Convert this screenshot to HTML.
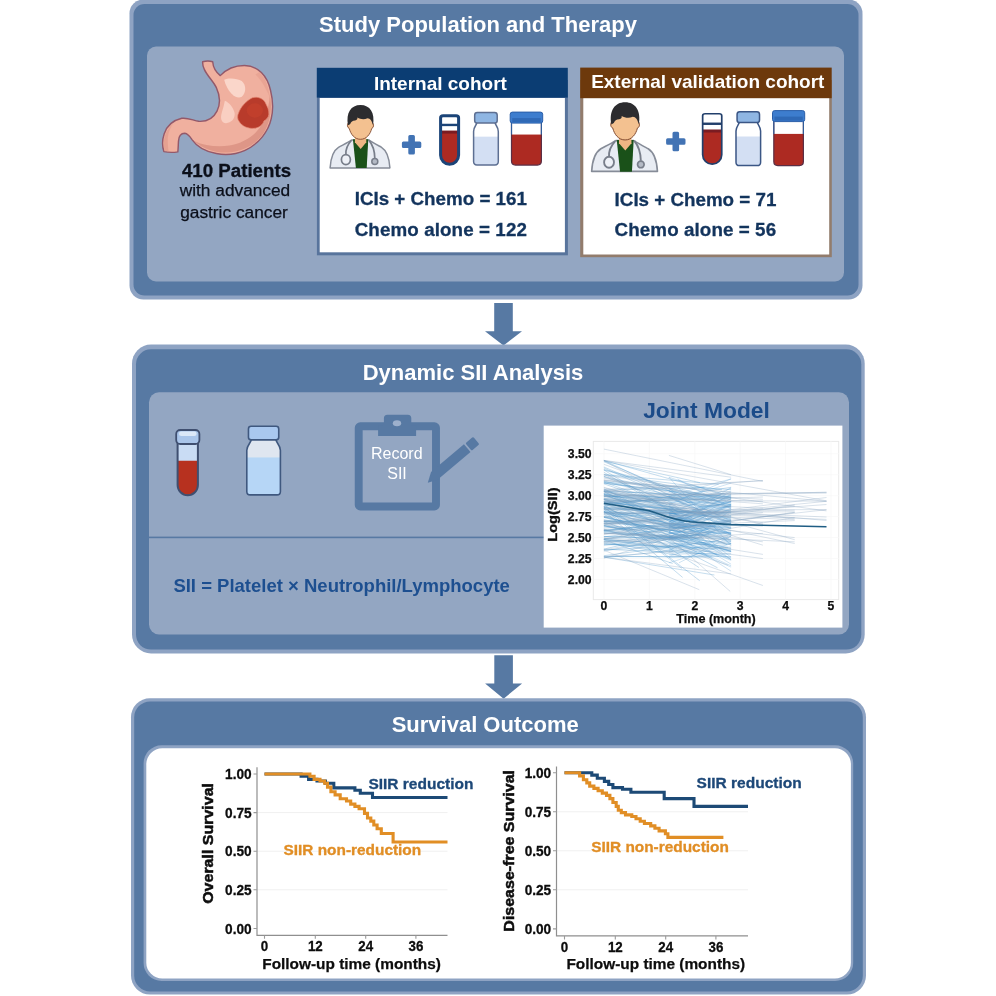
<!DOCTYPE html>
<html lang="en">
<head>
<meta charset="utf-8">
<title>Graphical abstract: Dynamic SII analysis in advanced gastric cancer</title>
<style>
html,body{margin:0;padding:0;background:#ffffff;}
body{width:996px;height:996px;overflow:hidden;}
svg{display:block;}
text{font-family:"Liberation Sans",sans-serif;}
.b{font-weight:bold;}
.title{font-weight:bold;font-size:22px;fill:#ffffff;text-anchor:middle;}
.hd{font-weight:bold;font-size:19px;fill:#ffffff;text-anchor:middle;}
.navy{font-weight:bold;font-size:18.8px;fill:#13345d;stroke:#13345d;stroke-width:0.3px;}
.tick{font-weight:bold;font-size:14.5px;fill:#0d0d0d;stroke:#0d0d0d;stroke-width:0.3px;}
.rot{font-weight:bold;fill:#0d0d0d;stroke:#0d0d0d;stroke-width:0.55px;}
.ax{font-weight:bold;fill:#0d0d0d;stroke:#0d0d0d;stroke-width:0.25px;}
.jt{font-weight:bold;font-size:12.2px;fill:#0d0d0d;stroke:#0d0d0d;stroke-width:0.25px;}
</style>
</head>
<body>
<svg width="996" height="996" viewBox="0 0 996 996">
<rect x="0" y="0" width="996" height="996" fill="#ffffff"/>
<!-- Box 1 -->
<rect x="129.5" y="-0.5" width="733" height="300" rx="14" fill="#8ea3c3"/>
<rect x="133.5" y="4" width="725" height="291.5" rx="11" fill="#5779a3"/>
<rect x="147" y="46.5" width="697" height="235" rx="9" fill="#93a6c2"/>
<text x="478" y="31.8" class="title">Study Population and Therapy</text>
<g id="stomach" transform="translate(155,55) scale(0.13052)">
<path d="M365,52 C390,45 420,45 442,52 C445,95 465,130 500,158 C545,110 610,80 685,80 C790,82 860,160 885,270 C905,350 905,430 890,490 C870,580 800,680 690,730 C620,762 540,768 470,755 C390,740 320,700 285,650 C265,620 250,602 228,600 C200,600 182,625 180,660 C178,690 178,715 175,742 C140,748 105,748 68,740 C55,700 55,650 70,605 C90,545 140,500 205,485 C250,478 290,500 335,508 C400,512 450,480 475,430 C500,380 498,310 470,250 C450,205 400,160 378,110 C368,90 364,70 365,52 Z" fill="#f0b09f" stroke="#93596a" stroke-width="11" stroke-linejoin="round"/>
<path d="M880,300 C900,400 885,520 826,608 C768,688 680,730 580,745 C480,755 380,728 300,658 C380,696 480,708 570,694 C680,674 778,616 826,518 C858,450 876,380 880,300 Z" fill="#dc9384" opacity="0.9"/>
<path d="M76,735 C64,700 64,650 80,606 C92,575 112,548 140,526 C112,560 96,610 98,660 C99,690 100,715 104,738 Z" fill="#e39d8d" opacity="0.8"/>
<path d="M800,130 C850,180 872,250 878,320 C850,260 820,200 770,150 Z" fill="#e5a090" opacity="0.7"/>
<path d="M530,190 C560,175 630,178 665,200 C700,230 700,290 665,320 C640,335 610,320 585,295 C560,270 540,230 530,190 Z" fill="#fad6ca"/>
<path d="M535,350 C570,365 600,400 610,445 C615,490 580,525 540,522 C505,515 500,480 512,440 C522,410 530,380 535,350 Z" fill="#f9cfc2"/>
<path d="M640,445 C655,400 700,350 745,328 C790,315 835,335 850,375 C860,395 875,420 872,455 C870,480 850,495 835,505 C825,535 795,560 755,562 C710,565 665,545 645,510 C630,490 630,465 640,445 Z" fill="#b83b2b" stroke="#e48a76" stroke-width="5"/>
<ellipse cx="765" cy="425" rx="62" ry="55" fill="#c8432e" opacity="0.55"/>
</g>
<text x="236.5" y="176.8" class="b" font-size="18.7" fill="#0b0f1a" stroke="#0b0f1a" stroke-width="0.3" text-anchor="middle">410 Patients</text>
<text x="235" y="196.0" font-size="17.3" fill="#0b0f1a" stroke="#0b0f1a" stroke-width="0.25" text-anchor="middle">with advanced</text>
<text x="234" y="217.6" font-size="17.3" fill="#0b0f1a" stroke="#0b0f1a" stroke-width="0.25" text-anchor="middle">gastric cancer</text>
<!-- Internal cohort -->
<rect x="316.9" y="80" width="251" height="175.3" fill="#58749c"/>
<rect x="319.7" y="98" width="245.2" height="154.3" fill="#ffffff"/>
<rect x="316.8" y="67.8" width="251" height="29.8" fill="#0b3d73"/>
<text x="440.4" y="89.8" class="hd">Internal cohort</text>
<g transform="translate(329.5,104.7) scale(1.0)">
<path d="M0.6,63.2 C1.2,53 3.5,46 9,42.6 C13,40.4 18,38 22.5,35.2 L39,35.2 C43.5,38 48,40.4 52,42.6 C57.5,46 59.8,53 60.4,63.2 Z" fill="#e8ecf3" stroke="#868c98" stroke-width="1.5" stroke-linejoin="round"/>
<path d="M23.4,34.6 L38.8,34.6 L37.2,63.4 L26.4,63.4 Z" fill="#1a5119"/>
<path d="M25.6,31 L36.6,31 L36.8,37.5 L31.2,44.2 L25.4,37.5 Z" fill="#eeb684"/>
<path d="M18.9,18 C17.4,19.5 17.6,23 19.8,23.8 C21.2,29.5 25,34.6 31,34.6 C37,34.6 40.8,29.5 42.2,23.8 C44.4,23 44.6,19.5 43.1,18 C43.3,12 40,8 31,8 C22,8 18.7,12 18.9,18 Z" fill="#f3c190" stroke="#80492f" stroke-width="0.9"/>
<path d="M18.5,20.6 C16.3,8 21.5,0.3 31,0.3 C40.5,0.3 45.7,8 43.5,20.6 C43,18.6 42.4,17 41.3,15.4 C40.4,14.4 39.4,13.7 38,13.6 C34.5,15 31,14.6 27.8,12.8 C28.3,14.2 27.6,15.2 25.6,15.8 C23,15.8 21.6,17.2 20.7,19.2 C20,19.8 19.2,20.2 18.5,20.6 Z" fill="#2c2c2f"/>
<path d="M22,35.6 C17.5,40.5 16,45.5 16.4,50" fill="none" stroke="#787e8a" stroke-width="1.7"/>
<path d="M39.4,35.4 C43.6,40.5 45.2,47 45.3,53.6" fill="none" stroke="#787e8a" stroke-width="1.7"/>
<ellipse cx="16.4" cy="54.9" rx="4.5" ry="5" fill="#eef1f7" stroke="#787e8a" stroke-width="1.7"/>
<circle cx="45.3" cy="56.9" r="3" fill="#b4bac5" stroke="#787e8a" stroke-width="1.5"/>
</g><path d="M401.90000000000003,142.89999999999998 Q401.90000000000003,141.39999999999998 403.40000000000003,141.39999999999998 H408.3 V136.5 Q408.3,135.0 409.8,135.0 H413.40000000000003 Q414.90000000000003,135.0 414.90000000000003,136.5 V141.39999999999998 H419.8 Q421.3,141.39999999999998 421.3,142.89999999999998 V146.5 Q421.3,148.0 419.8,148.0 H414.90000000000003 V152.89999999999998 Q414.90000000000003,154.39999999999998 413.40000000000003,154.39999999999998 H409.8 Q408.3,154.39999999999998 408.3,152.89999999999998 V148.0 H403.40000000000003 Q401.90000000000003,148.0 401.90000000000003,146.5 Z" fill="#4273b4"/><g>
<clipPath id="tc439"><path d="M440.6,117.7 Q440.6,115.7 443.1,115.7 H456.1 Q458.6,115.7 458.6,117.7 V155.3 A9.0,9.0 0 0 1 440.6,155.3 Z"/></clipPath>
<path d="M440.6,117.7 Q440.6,115.7 443.1,115.7 H456.1 Q458.6,115.7 458.6,117.7 V155.3 A9.0,9.0 0 0 1 440.6,155.3 Z" fill="#ffffff"/>
<rect x="439.1" y="132.776" width="21" height="51.6" fill="#ad2a22" clip-path="url(#tc439)"/>
<rect x="439.1" y="130.57600000000002" width="21" height="3" fill="#7a1c22" clip-path="url(#tc439)"/>
<rect x="439.1" y="123.74600000000001" width="21" height="2.4" fill="#1b4478" clip-path="url(#tc439)"/>
<path d="M440.6,117.7 Q440.6,115.7 443.1,115.7 H456.1 Q458.6,115.7 458.6,117.7 V155.3 A9.0,9.0 0 0 1 440.6,155.3 Z" fill="none" stroke="#1b4478" stroke-width="3.0"/>
</g><g>
<clipPath id="vc473"><path d="M476.9368,121.952 C476.9368,125.452 473.6,126.38399999999999 473.6,131.384 V161.6 Q473.6,165.0 477,165.0 H494.9 Q498.29999999999995,165.0 498.29999999999995,161.6 V131.384 C498.29999999999995,126.38399999999999 494.9632,125.452 494.9632,121.952 Z"/></clipPath>
<path d="M476.9368,121.952 C476.9368,125.452 473.6,126.38399999999999 473.6,131.384 V161.6 Q473.6,165.0 477,165.0 H494.9 Q498.29999999999995,165.0 498.29999999999995,161.6 V131.384 C498.29999999999995,126.38399999999999 494.9632,125.452 494.9632,121.952 Z" fill="#ffffff"/>
<rect x="473" y="136.656" width="25.9" height="53.6" fill="#d3dff3" clip-path="url(#vc473)"/>
<path d="M476.9368,121.952 C476.9368,125.452 473.6,126.38399999999999 473.6,131.384 V161.6 Q473.6,165.0 477,165.0 H494.9 Q498.29999999999995,165.0 498.29999999999995,161.6 V131.384 C498.29999999999995,126.38399999999999 494.9632,125.452 494.9632,121.952 Z" fill="none" stroke="#5d6f92" stroke-width="1.5"/>
<rect x="474.6835" y="112.6" width="22.532999999999998" height="10.452" rx="2.6" fill="#8fb6e3" stroke="#5d6f92" stroke-width="1.5"/>
</g><g>
<clipPath id="cc509"><path d="M511.5,121.6 V161.1 Q511.5,165.1 515.5,165.1 H537.4 Q541.4,165.1 541.4,161.1 V121.6 Z"/></clipPath>
<path d="M511.5,121.6 V161.1 Q511.5,165.1 515.5,165.1 H537.4 Q541.4,165.1 541.4,161.1 V121.6 Z" fill="#ffffff"/>
<rect x="509.7" y="134.54999999999998" width="33.5" height="54" fill="#ad2a22" clip-path="url(#cc509)"/>
<path d="M511.5,121.6 V161.1 Q511.5,165.1 515.5,165.1 H537.4 Q541.4,165.1 541.4,161.1 V121.6 Z" fill="none" stroke="#5a2f45" stroke-width="1.2"/>
<path d="M511.5,122.6 V134.54999999999998" stroke="#2f5f9f" stroke-width="1.1"/>
<path d="M541.4,122.6 V134.54999999999998" stroke="#2f5f9f" stroke-width="1.1"/>
<rect x="510.2" y="112.1" width="32.5" height="11" rx="2.2" fill="#3d7dce" stroke="#2a5ea8" stroke-width="1"/>
<rect x="512.2" y="118.1" width="28.5" height="4" fill="#2f69b6"/>
</g><text x="354.7" y="205" class="navy">ICIs + Chemo = 161</text>
<text x="354.7" y="235.7" class="navy" textLength="172.2">Chemo alone = 122</text>
<!-- External validation cohort -->
<rect x="580.2" y="80" width="251.6" height="177.2" fill="#927c6c"/>
<rect x="583.3" y="98" width="245.9" height="156.5" fill="#ffffff"/>
<rect x="580.2" y="67.6" width="251.5" height="30.6" fill="#6d390c"/>
<text x="707.8" y="88.1" class="hd">External validation cohort</text>
<g transform="translate(591,101.9) scale(1.1)">
<path d="M0.6,63.2 C1.2,53 3.5,46 9,42.6 C13,40.4 18,38 22.5,35.2 L39,35.2 C43.5,38 48,40.4 52,42.6 C57.5,46 59.8,53 60.4,63.2 Z" fill="#e8ecf3" stroke="#868c98" stroke-width="1.5" stroke-linejoin="round"/>
<path d="M23.4,34.6 L38.8,34.6 L37.2,63.4 L26.4,63.4 Z" fill="#1a5119"/>
<path d="M25.6,31 L36.6,31 L36.8,37.5 L31.2,44.2 L25.4,37.5 Z" fill="#eeb684"/>
<path d="M18.9,18 C17.4,19.5 17.6,23 19.8,23.8 C21.2,29.5 25,34.6 31,34.6 C37,34.6 40.8,29.5 42.2,23.8 C44.4,23 44.6,19.5 43.1,18 C43.3,12 40,8 31,8 C22,8 18.7,12 18.9,18 Z" fill="#f3c190" stroke="#80492f" stroke-width="0.9"/>
<path d="M18.5,20.6 C16.3,8 21.5,0.3 31,0.3 C40.5,0.3 45.7,8 43.5,20.6 C43,18.6 42.4,17 41.3,15.4 C40.4,14.4 39.4,13.7 38,13.6 C34.5,15 31,14.6 27.8,12.8 C28.3,14.2 27.6,15.2 25.6,15.8 C23,15.8 21.6,17.2 20.7,19.2 C20,19.8 19.2,20.2 18.5,20.6 Z" fill="#2c2c2f"/>
<path d="M22,35.6 C17.5,40.5 16,45.5 16.4,50" fill="none" stroke="#787e8a" stroke-width="1.7"/>
<path d="M39.4,35.4 C43.6,40.5 45.2,47 45.3,53.6" fill="none" stroke="#787e8a" stroke-width="1.7"/>
<ellipse cx="16.4" cy="54.9" rx="4.5" ry="5" fill="#eef1f7" stroke="#787e8a" stroke-width="1.7"/>
<circle cx="45.3" cy="56.9" r="3" fill="#b4bac5" stroke="#787e8a" stroke-width="1.5"/>
</g><path d="M666.0999999999999,139.7 Q666.0999999999999,138.2 667.5999999999999,138.2 H672.5 V133.3 Q672.5,131.8 674.0,131.8 H677.5999999999999 Q679.0999999999999,131.8 679.0999999999999,133.3 V138.2 H684.0 Q685.5,138.2 685.5,139.7 V143.3 Q685.5,144.8 684.0,144.8 H679.0999999999999 V149.7 Q679.0999999999999,151.2 677.5999999999999,151.2 H674.0 Q672.5,151.2 672.5,149.7 V144.8 H667.5999999999999 Q666.0999999999999,144.8 666.0999999999999,143.3 Z" fill="#4273b4"/><g>
<clipPath id="tc701"><path d="M702.65,115.75 Q702.65,113.75 705.15,113.75 H719.25 Q721.75,113.75 721.75,115.75 V154.7 A9.55,9.55 0 0 1 702.65,154.7 Z"/></clipPath>
<path d="M702.65,115.75 Q702.65,113.75 705.15,113.75 H719.25 Q721.75,113.75 721.75,115.75 V154.7 A9.55,9.55 0 0 1 702.65,154.7 Z" fill="#ffffff"/>
<rect x="701.8" y="131.692" width="20.8" height="52.2" fill="#ad2a22" clip-path="url(#tc701)"/>
<rect x="701.8" y="129.49200000000002" width="20.8" height="3" fill="#7a1c22" clip-path="url(#tc701)"/>
<rect x="701.8" y="122.557" width="20.8" height="2.4" fill="#223f6b" clip-path="url(#tc701)"/>
<path d="M702.65,115.75 Q702.65,113.75 705.15,113.75 H719.25 Q721.75,113.75 721.75,115.75 V154.7 A9.55,9.55 0 0 1 702.65,154.7 Z" fill="none" stroke="#223f6b" stroke-width="1.7"/>
</g><g>
<clipPath id="vc735"><path d="M739.3216,121.425 C739.3216,124.925 736.0,126.025 736.0,131.025 V162.2 Q736.0,165.6 739.4,165.6 H757.1999999999999 Q760.5999999999999,165.6 760.5999999999999,162.2 V131.025 C760.5999999999999,126.025 757.2783999999999,124.925 757.2783999999999,121.425 Z"/></clipPath>
<path d="M739.3216,121.425 C739.3216,124.925 736.0,126.025 736.0,131.025 V162.2 Q736.0,165.6 739.4,165.6 H757.1999999999999 Q760.5999999999999,165.6 760.5999999999999,162.2 V131.025 C760.5999999999999,126.025 757.2783999999999,124.925 757.2783999999999,121.425 Z" fill="#ffffff"/>
<rect x="735.4" y="136.5" width="25.8" height="55" fill="#d3dff3" clip-path="url(#vc735)"/>
<path d="M739.3216,121.425 C739.3216,124.925 736.0,126.025 736.0,131.025 V162.2 Q736.0,165.6 739.4,165.6 H757.1999999999999 Q760.5999999999999,165.6 760.5999999999999,162.2 V131.025 C760.5999999999999,126.025 757.2783999999999,124.925 757.2783999999999,121.425 Z" fill="none" stroke="#3b5685" stroke-width="1.5"/>
<rect x="737.077" y="111.8" width="22.446" height="10.725" rx="2.6" fill="#8fb6e3" stroke="#3b5685" stroke-width="1.5"/>
</g><g>
<clipPath id="cc772"><path d="M773.8,120.1 V161.6 Q773.8,165.6 777.8,165.6 H799.4 Q803.4,165.6 803.4,161.6 V120.1 Z"/></clipPath>
<path d="M773.8,120.1 V161.6 Q773.8,165.6 777.8,165.6 H799.4 Q803.4,165.6 803.4,161.6 V120.1 Z" fill="#ffffff"/>
<rect x="772" y="133.9" width="33.2" height="56" fill="#ad2a22" clip-path="url(#cc772)"/>
<path d="M773.8,120.1 V161.6 Q773.8,165.6 777.8,165.6 H799.4 Q803.4,165.6 803.4,161.6 V120.1 Z" fill="none" stroke="#5a2f45" stroke-width="1.2"/>
<path d="M773.8,121.1 V133.9" stroke="#2f5f9f" stroke-width="1.1"/>
<path d="M803.4,121.1 V133.9" stroke="#2f5f9f" stroke-width="1.1"/>
<rect x="772.5" y="110.6" width="32.2" height="11" rx="2.2" fill="#3d7dce" stroke="#2a5ea8" stroke-width="1"/>
<rect x="774.5" y="116.6" width="28.200000000000003" height="4" fill="#2f69b6"/>
</g><text x="614.6" y="205.6" class="navy">ICIs + Chemo = 71</text>
<text x="614.6" y="235.7" class="navy" textLength="161.5">Chemo alone = 56</text>
<path d="M494.2,303 H512.8 V331.2 H522.0 L503.5,345.5 L485.0,331.2 H494.2 Z" fill="#5779a3"/><!-- Box 2 -->
<rect x="132" y="344.6" width="732.7" height="308.8" rx="19" fill="#8ea3c3"/>
<rect x="136" y="349.3" width="725.3" height="300.3" rx="15" fill="#5779a3"/>
<rect x="149" y="392.2" width="700" height="242.3" rx="10" fill="#93a6c2"/>
<text x="473" y="380" class="title">Dynamic SII Analysis</text>
<text x="706.5" y="417.8" class="b" font-size="22.8" fill="#1b4b89" text-anchor="middle">Joint Model</text>
<rect x="149" y="536.6" width="396" height="1.6" fill="#5779a3"/>
<text x="173.4" y="591.7" class="b" font-size="18.5" fill="#1d4f90">SII = Platelet × Neutrophil/Lymphocyte</text>
<g id="tube2">
<path d="M177.6,441 V485 A10.1,10.1 0 0 0 197.9,485 V441 Z" fill="#c9dcf4"/>
<path d="M177.6,460.8 H197.9 V485 A10.1,10.1 0 0 1 177.6,485 Z" fill="#b7311f"/>
<path d="M177.6,441 V485 A10.1,10.1 0 0 0 197.9,485 V441" fill="none" stroke="#3f4f70" stroke-width="2"/>
<rect x="176.2" y="430" width="23.2" height="14" rx="4" fill="#a9c5ea" stroke="#3f4f70" stroke-width="1.8"/>
<rect x="179" y="431.4" width="17.6" height="4.6" rx="2.3" fill="#dbe8f8"/>
</g>
<g>
<clipPath id="vc246"><path d="M251.48959999999997,438.811 C251.48959999999997,442.311 246.79999999999998,445.18699999999995 246.79999999999998,450.18699999999995 V491.5 Q246.79999999999998,494.9 250.2,494.9 H277.0 Q280.4,494.9 280.4,491.5 V450.18699999999995 C280.4,445.18699999999995 275.71039999999994,442.311 275.71039999999994,438.811 Z"/></clipPath>
<path d="M251.48959999999997,438.811 C251.48959999999997,442.311 246.79999999999998,445.18699999999995 246.79999999999998,450.18699999999995 V491.5 Q246.79999999999998,494.9 250.2,494.9 H277.0 Q280.4,494.9 280.4,491.5 V450.18699999999995 C280.4,445.18699999999995 275.71039999999994,442.311 275.71039999999994,438.811 Z" fill="#dfe6f0"/>
<rect x="246.2" y="457.459" width="34.8" height="69.8" fill="#b6d6f6" clip-path="url(#vc246)"/>
<path d="M251.48959999999997,438.811 C251.48959999999997,442.311 246.79999999999998,445.18699999999995 246.79999999999998,450.18699999999995 V491.5 Q246.79999999999998,494.9 250.2,494.9 H277.0 Q280.4,494.9 280.4,491.5 V450.18699999999995 C280.4,445.18699999999995 275.71039999999994,442.311 275.71039999999994,438.811 Z" fill="none" stroke="#3f587f" stroke-width="1.6"/>
<rect x="248.46199999999996" y="426.3" width="30.275999999999996" height="13.611" rx="2.6" fill="#a9c8ef" stroke="#3f587f" stroke-width="1.6"/>
</g><g id="clipboard">
<rect x="358.7" y="426.2" width="77.3" height="80.3" rx="1.6" fill="none" stroke="#5779a3" stroke-width="7.9"/>
<path d="M378.1,436 V425.5 H383.9 V418.3 Q383.9,414.8 387.4,414.8 H407.8 Q411.3,414.8 411.3,418.3 V425.5 H416.1 V436 Z" fill="#5779a3"/>
<ellipse cx="397" cy="423.2" rx="4.2" ry="3" fill="#9db0cc"/>
<g transform="translate(427.8,482.7) rotate(-40.2)">
<path d="M0,0 L9.3,-6 H52.4 V4.1 H9.3 Z" fill="#5779a3"/>
<rect x="54.1" y="-5.8" width="10.2" height="9.7" rx="1.3" fill="#5779a3"/>
</g>
<text x="396.8" y="458.5" font-size="16" fill="#ffffff" text-anchor="middle">Record</text>
<text x="397" y="478.5" font-size="16" fill="#ffffff" text-anchor="middle">SII</text>
</g>
<!-- Joint model chart -->
<rect x="543.7" y="425.6" width="298.7" height="202" fill="#ffffff"/>
<rect x="593.3" y="441.4" width="245.4" height="158.2" fill="#ffffff" stroke="#e9e9e9" stroke-width="1"/>
<path d="M593.3,579.6H838.7M593.3,558.6H838.7M593.3,537.6H838.7M593.3,516.6H838.7M593.3,495.7H838.7M593.3,474.7H838.7M593.3,453.7H838.7M603.9,441.4V599.6M649.3,441.4V599.6M694.8,441.4V599.6M740.2,441.4V599.6M785.6,441.4V599.6M831.0,441.4V599.6" stroke="#f8f8f8" stroke-width="0.8" fill="none"/>
<path d="M603.9,496.1L731.1,497.4M603.9,491.5L719.9,504.0M603.9,521.6L672.9,547.0M603.9,493.6L673.8,508.9M603.9,517.4L731.0,541.5M603.9,488.8L685.6,529.5M603.9,474.7L722.0,489.8M603.9,468.0L684.4,504.3M603.9,541.9L709.2,534.5M603.9,494.6L675.6,505.4M603.9,551.1L715.3,530.8M603.9,511.9L684.6,529.8M603.9,470.0L724.3,502.8M603.9,536.9L731.1,521.0M603.9,508.0L706.5,515.8M603.9,521.4L728.7,538.3M603.9,541.8L681.1,556.1M603.9,499.4L715.7,526.5M603.9,503.4L720.7,495.1M603.9,509.1L731.1,513.1M603.9,543.2L673.0,551.3M603.9,512.4L693.8,522.4M603.9,476.5L731.1,504.6M603.9,502.3L725.8,514.8M603.9,501.7L731.1,518.2M603.9,483.2L731.1,497.4M603.9,491.3L731.1,522.4M603.9,531.0L706.5,545.0M603.9,482.1L715.5,522.0M603.9,520.2L731.1,527.7M603.9,539.8L672.7,563.5M603.9,511.7L725.5,532.8M603.9,545.4L711.4,533.2M603.9,507.8L688.3,512.2M603.9,530.0L690.7,524.1M603.9,483.8L673.9,508.3M603.9,504.7L698.9,567.5M603.9,557.8L731.1,544.0M603.9,525.9L731.1,548.5M603.9,511.1L682.6,577.4M603.9,508.6L692.5,531.0M603.9,494.3L727.1,544.7M603.9,490.6L731.1,498.5M603.9,491.7L710.5,546.1M603.9,512.3L731.1,551.5M603.9,481.0L731.1,507.3M603.9,472.3L676.9,515.2M603.9,538.5L673.7,548.3M603.9,555.7L718.6,540.4M603.9,491.3L731.1,496.4M603.9,501.3L715.1,499.1M603.9,544.1L731.1,548.0M603.9,531.7L703.7,539.1M603.9,526.0L731.1,534.1M603.9,536.6L703.9,537.8M603.9,461.7L700.0,501.9M603.9,523.1L708.5,528.9M603.9,514.0L731.1,512.4M603.9,507.0L686.8,528.5M603.9,526.9L696.5,536.2M603.9,498.4L731.1,506.9M603.9,544.4L731.1,549.4M603.9,495.8L731.1,505.5M603.9,474.5L718.7,484.3M603.9,530.8L683.9,522.4M603.9,536.4L676.2,539.4M603.9,550.0L731.1,543.0M603.9,460.4L675.7,494.0M603.9,539.0L699.6,534.6M603.9,496.5L731.1,499.2M603.9,501.6L673.0,508.9M603.9,519.8L731.1,539.9M603.9,469.5L725.9,500.5M603.9,517.4L731.1,551.5M603.9,507.1L699.7,580.7M603.9,523.9L727.8,547.4M603.9,549.1L695.1,528.0M603.9,525.4L731.1,550.5M603.9,511.0L694.2,520.5M603.9,506.0L731.1,487.3M603.9,529.5L707.3,555.7M603.9,461.1L699.9,482.6M603.9,532.5L688.9,540.0M603.9,521.0L731.1,534.1M603.9,490.7L681.3,509.7M603.9,538.9L731.1,520.0M603.9,460.4L725.5,494.5M603.9,494.6L708.9,531.9M603.9,503.8L679.4,514.1M603.9,516.7L706.4,541.3M603.9,499.7L688.1,536.9M603.9,530.5L731.1,543.4M603.9,470.0L675.6,513.5M603.9,530.8L704.0,526.0M603.9,521.8L692.3,517.6M603.9,556.6L731.1,556.6M603.9,504.1L687.3,529.4M603.9,517.3L731.1,510.2M603.9,483.2L712.5,496.3M603.9,504.5L711.1,525.1M603.9,516.5L731.1,503.8M603.9,493.9L731.1,501.6M603.9,482.3L731.1,489.5M603.9,493.7L693.6,519.6M603.9,521.5L705.3,520.7M603.9,549.2L716.9,554.2M603.9,506.6L704.2,517.4M603.9,539.7L676.9,548.8M603.9,498.9L731.1,519.5M603.9,506.5L685.1,542.3M603.9,539.7L692.0,544.5M603.9,516.8L714.6,542.4M603.9,525.5L731.1,557.9M603.9,467.0L731.1,520.4M603.9,514.7L696.9,551.9M603.9,509.1L681.9,568.4M603.9,502.6L706.5,513.2M603.9,496.3L684.9,512.5M603.9,511.3L683.0,543.3M603.9,489.9L704.4,487.7M603.9,499.4L702.5,530.2M603.9,476.3L672.7,503.1M603.9,530.6L731.1,515.9M603.9,499.3L687.4,508.6M603.9,508.3L717.5,567.8M603.9,557.2L714.4,575.0M603.9,539.7L718.7,556.5M603.9,512.3L690.1,512.0M603.9,509.9L731.1,536.5M603.9,491.6L694.3,530.6M603.9,503.7L672.7,499.3M603.9,523.6L692.0,517.9M603.9,513.5L715.2,534.9M603.9,481.4L731.1,511.5M603.9,556.3L712.1,557.2" stroke="#3f90c8" stroke-opacity="0.36" stroke-width="0.85" fill="none"/>
<path d="M668.9,539.1L731.1,516.8M668.9,513.5L731.1,559.7M668.9,527.7L731.1,504.8M685.7,542.9L731.1,509.9M668.9,532.2L731.1,551.3M668.9,526.5L731.1,506.5M668.9,502.1L731.1,502.3M668.9,508.5L731.1,557.3M680.6,498.8L731.1,483.1M668.9,531.7L731.1,505.3M668.9,531.0L731.1,571.2M668.9,525.7L731.1,564.2M668.9,490.9L731.1,521.9M668.9,504.4L731.1,508.1M676.6,523.4L731.1,541.3M671.8,527.6L731.1,521.8M668.9,496.7L731.1,529.1M690.0,532.2L731.1,532.3M668.9,506.2L731.1,543.9M674.0,510.0L731.1,534.3M668.9,551.5L731.1,551.1M668.9,525.2L731.1,526.1M682.9,492.2L731.1,478.9M668.9,528.1L731.1,494.1M669.2,537.3L731.1,508.0M668.9,510.4L731.1,495.1M668.9,537.3L731.1,509.2M668.9,533.1L731.1,528.4M668.9,531.7L731.1,498.6M681.7,522.9L731.1,533.5M668.9,537.9L731.1,523.8M679.2,530.1L731.1,559.4M677.6,479.1L731.1,508.8M680.1,541.3L731.1,517.8M675.7,538.7L731.1,531.9M684.5,487.0L731.1,498.3M668.9,545.0L731.1,551.4M668.9,523.9L731.1,527.7M668.9,540.0L731.1,520.3M668.9,488.1L731.1,499.8M668.9,516.3L731.1,501.8M689.5,516.8L731.1,512.4M668.9,537.9L731.1,565.8M668.9,512.6L731.1,533.7M668.9,557.3L731.1,554.0M668.9,514.8L731.1,530.7M668.9,516.8L731.1,520.8M668.9,522.9L731.1,504.3M668.9,488.2L731.1,535.2M668.9,534.1L731.1,503.9M668.9,477.2L731.1,497.7M679.0,562.8L731.1,536.2M688.0,512.9L731.1,501.7M668.9,504.6L731.1,478.9M690.1,529.7L731.1,522.8M668.9,509.0L731.1,488.4M668.9,512.8L731.1,524.0M687.4,520.1L731.1,540.5M668.9,520.0L731.1,533.2M668.9,497.3L731.1,522.8M668.9,514.6L731.1,501.4M668.9,513.3L731.1,506.4M668.9,535.7L731.1,560.4M668.9,539.5L731.1,567.1M683.1,515.2L731.1,501.8M668.9,522.3L731.1,491.8M668.9,495.9L731.1,515.8M668.9,523.5L731.1,524.2M670.7,520.8L731.1,505.8M668.9,524.9L731.1,487.7M668.9,522.1L731.1,495.4M668.9,477.2L731.1,545.8M668.9,550.1L731.1,523.6M668.9,496.1L731.1,524.4M668.9,544.7L731.1,541.2M668.9,536.7L731.1,559.5M668.9,556.4L731.1,536.0M668.9,562.8L731.1,543.6M668.9,515.2L731.1,532.9M685.7,515.5L731.1,496.7M668.9,513.7L731.1,535.0M668.9,512.7L731.1,490.9M668.9,491.0L731.1,505.1M668.9,554.2L731.1,553.2M668.9,515.3L731.1,516.7" stroke="#4a98cf" stroke-opacity="0.33" stroke-width="0.8" fill="none"/>
<path d="M603.9,543.1L702.0,537.5M603.9,460.4L826.5,500.8M603.9,541.8L709.9,531.8M603.9,506.8L729.0,514.3M603.9,491.8L717.7,512.1M603.9,489.5L762.9,480.6M603.9,522.5L674.3,540.0M603.9,502.2L762.9,497.0M603.9,492.8L762.9,503.8M603.9,507.9L826.5,517.0M603.9,508.3L731.1,545.1M603.9,524.0L794.7,506.1M603.9,480.5L826.5,501.3M603.9,557.2L731.1,573.9M603.9,538.8L794.7,512.3M603.9,491.3L731.1,521.2M603.9,490.3L762.9,499.3M603.9,487.3L794.7,539.7M603.9,475.2L731.1,494.9M603.9,533.3L731.1,539.8M603.9,524.4L762.9,512.6M603.9,495.9L826.5,492.3M603.9,523.8L728.1,565.1M603.9,534.3L794.7,504.9M603.9,495.5L826.5,492.3M603.9,509.5L826.5,509.7M603.9,539.6L794.7,512.5M603.9,558.2L685.5,533.5M603.9,502.1L731.1,493.1M603.9,512.8L794.7,511.8M603.9,491.4L762.9,480.6M603.9,460.8L701.9,513.1M603.9,500.3L762.9,508.2M603.9,530.5L713.4,526.6M603.9,495.7L762.9,545.2M603.9,499.3L725.0,543.3M603.9,478.2L731.1,499.9M603.9,480.2L826.5,510.9M603.9,533.4L727.9,536.6M603.9,549.8L794.7,517.5M603.9,509.6L826.5,519.4M603.9,501.4L826.5,520.5M603.9,474.4L678.8,507.8M603.9,500.1L826.5,501.2M603.9,479.8L731.1,492.2M603.9,525.7L826.5,497.5M603.9,523.1L723.7,524.4M603.9,464.3L719.5,506.6M603.9,514.1L794.7,510.2M603.9,477.2L731.1,506.9M603.9,487.9L762.9,524.4M603.9,520.7L826.5,504.5M603.9,556.7L731.1,546.9M603.9,521.3L762.9,526.2M603.9,489.9L728.6,517.3M603.9,504.6L794.7,518.3M603.9,534.3L826.5,509.7M603.9,528.2L794.7,520.6M603.9,498.1L762.9,522.8M603.9,499.2L681.3,497.7M603.9,523.4L826.5,501.3M603.9,501.5L731.1,527.2M603.9,497.0L762.9,501.4M603.9,513.0L681.3,528.2M603.9,512.3L794.7,519.6M603.9,449.1L762.9,481.4M603.9,460.4L731.1,477.2M668.9,455.4L731.1,474.7M603.9,495.7L826.5,493.1M603.9,550.2L699.3,589.7M644.8,516.6L730.2,591.4M603.9,529.2L762.9,585.5M603.9,533.4L794.7,541.8M603.9,516.6L794.7,537.6M603.9,529.2L762.9,554.4M603.9,537.6L762.9,558.6M603.9,504.1L794.7,543.5M603.9,520.8L762.9,541.8M603.9,541.8L762.9,533.4" stroke="#86a3c0" stroke-opacity="0.40" stroke-width="0.8" fill="none"/>
<path d="M603.9,503.2 L649.3,510.8 C663.0,515.0 672.0,520.0 690.2,521.7 L731.1,524.6 L826.5,526.7" stroke="#1f5d84" stroke-width="1.6" fill="none" stroke-linejoin="round"/>
<text x="591.6" y="458.1" class="jt" text-anchor="end">3.50</text>
<text x="591.6" y="479.1" class="jt" text-anchor="end">3.25</text>
<text x="591.6" y="500.1" class="jt" text-anchor="end">3.00</text>
<text x="591.6" y="521.0" class="jt" text-anchor="end">2.75</text>
<text x="591.6" y="542.0" class="jt" text-anchor="end">2.50</text>
<text x="591.6" y="563.0" class="jt" text-anchor="end">2.25</text>
<text x="591.6" y="584.0" class="jt" text-anchor="end">2.00</text>
<text x="603.9" y="609.9" class="jt" text-anchor="middle">0</text>
<text x="649.3" y="609.9" class="jt" text-anchor="middle">1</text>
<text x="694.8" y="609.9" class="jt" text-anchor="middle">2</text>
<text x="740.2" y="609.9" class="jt" text-anchor="middle">3</text>
<text x="785.6" y="609.9" class="jt" text-anchor="middle">4</text>
<text x="831.0" y="609.9" class="jt" text-anchor="middle">5</text>
<text x="716" y="623.3" class="ax" font-size="12.6" text-anchor="middle">Time (month)</text>
<text transform="translate(557.0,514.6) scale(0.9,1) rotate(-90)" class="rot" style="stroke-width:0.4px" font-size="14.6" text-anchor="middle">Log(SII)</text>
<path d="M494.3,655.3 H512.9 V683.5 H522.1 L503.6,698.7 L485.1,683.5 H494.3 Z" fill="#5779a3"/><!-- Box 3 -->
<rect x="131" y="698.2" width="735" height="296.4" rx="19" fill="#8ea3c3"/>
<rect x="134.2" y="701.4" width="728.6" height="290" rx="16" fill="#5779a3"/>
<rect x="143.6" y="745.3" width="709.6" height="235.6" rx="18" fill="#8ea3c3"/>
<rect x="146.3" y="748.2" width="704.6" height="230.2" rx="16" fill="#ffffff"/>
<text x="485.2" y="732.4" class="title">Survival Outcome</text>
<!-- OS chart -->
<path d="M257,812.6H447.5M257,851.2H447.5M257,889.8H447.5" stroke="#f0f0f0" stroke-width="1" fill="none"/>
<path d="M257,767.2V935.4H447.5" stroke="#8f8f8f" stroke-width="1.2" fill="none"/>
<path d="M253.5,774H257M253.5,812.6H257M253.5,851.2H257M253.5,889.8H257M253.5,928.5H257M264.5,935.4V938.8M315.3,935.4V938.8M365.7,935.4V938.8M415.9,935.4V938.8" stroke="#9a9a9a" stroke-width="1.1" fill="none"/>
<path d="M264.5,774.0H301.1V776.3H308.6V779.4H317.0V781.0H325.4V783.3H333.8V787.9H354.9V790.2H360.3V793.3H372.5V797.5H447.3V797.5H447.5" stroke="#1d4a76" stroke-width="3.1" fill="none" stroke-linejoin="miter"/>
<path d="M264.5,774.0H309.9V776.3H314.1V779.4H320.0V781.0H324.6V783.3H327.5V787.1H330.9V791.8H335.1V794.9H340.2V798.7H346.5V801.0H350.7V804.1H354.9V806.4H359.1V808.8H364.5V813.4H367.5V818.0H370.8V821.1H373.8V825.0H377.1V828.8H381.3V833.5H393.1V842.0H447.3V842.0H447.5" stroke="#e18e25" stroke-width="3.1" fill="none"/>
<text transform="translate(251.6,779.2) scale(0.94,1)" class="tick" text-anchor="end">1.00</text>
<text transform="translate(251.6,817.8) scale(0.94,1)" class="tick" text-anchor="end">0.75</text>
<text transform="translate(251.6,856.4) scale(0.94,1)" class="tick" text-anchor="end">0.50</text>
<text transform="translate(251.6,895.0) scale(0.94,1)" class="tick" text-anchor="end">0.25</text>
<text transform="translate(251.6,933.7) scale(0.94,1)" class="tick" text-anchor="end">0.00</text>
<text transform="translate(264.5,950.6) scale(0.92,1)" class="tick" text-anchor="middle">0</text>
<text transform="translate(315.3,950.6) scale(0.92,1)" class="tick" text-anchor="middle">12</text>
<text transform="translate(365.7,950.6) scale(0.92,1)" class="tick" text-anchor="middle">24</text>
<text transform="translate(415.9,950.6) scale(0.92,1)" class="tick" text-anchor="middle">36</text>
<text x="351.6" y="968.7" class="ax" font-size="15.4" text-anchor="middle">Follow-up time (months)</text>
<text transform="translate(212.7,843.4) scale(0.94,1) rotate(-90)" class="rot" font-size="16" text-anchor="middle">Overall Survival</text>
<text x="368.4" y="788.9" class="b" font-size="15.5" fill="#1d4878" stroke="#1d4878" stroke-width="0.3">SIIR reduction</text>
<text x="283.5" y="855.3" class="b" font-size="15.4" fill="#e18e25" stroke="#e18e25" stroke-width="0.3">SIIR non-reduction</text>
<!-- DFS chart -->
<path d="M556.5,811.8H748M556.5,850.8H748M556.5,889.8H748" stroke="#f0f0f0" stroke-width="1" fill="none"/>
<path d="M556.5,766.5V935.9H748" stroke="#8f8f8f" stroke-width="1.2" fill="none"/>
<path d="M553,772.8H556.5M553,811.8H556.5M553,850.8H556.5M553,889.8H556.5M553,928.9H556.5M564.5,935.9V939.4M615.3,935.9V939.4M665.7,935.9V939.4M715.9,935.9V939.4" stroke="#9a9a9a" stroke-width="1.1" fill="none"/>
<path d="M564.5,772.8H591.8V775.1H597.3V778.3H604.4V781.4H608.7V784.5H612.9V787.6H622.5V789.2H630.9V792.3H664.2V798.6H694.0V806.4H747.8V806.4H748" stroke="#1d4a76" stroke-width="3.1" fill="none"/>
<path d="M564.5,772.8H579.6V775.9H583.4V779.8H586.8V782.9H589.7V786.1H593.9V788.4H598.1V790.8H602.3V793.1H606.5V795.4H609.9V798.6H612.9V802.5H616.2V806.4H618.3V810.3H621.3V812.6H625.5V814.9H631.8V816.5H636.0V818.8H640.2V821.2H644.4V823.5H650.7V825.9H654.9V828.2H659.1V830.9H665.4V833.7H667.9V837.4H723.4V837.4" stroke="#e18e25" stroke-width="3.1" fill="none"/>
<text transform="translate(551.2,778.0) scale(0.94,1)" class="tick" text-anchor="end">1.00</text>
<text transform="translate(551.2,817.0) scale(0.94,1)" class="tick" text-anchor="end">0.75</text>
<text transform="translate(551.2,856.0) scale(0.94,1)" class="tick" text-anchor="end">0.50</text>
<text transform="translate(551.2,895.0) scale(0.94,1)" class="tick" text-anchor="end">0.25</text>
<text transform="translate(551.2,934.1) scale(0.94,1)" class="tick" text-anchor="end">0.00</text>
<text transform="translate(564.5,951.6) scale(0.92,1)" class="tick" text-anchor="middle">0</text>
<text transform="translate(615.3,951.6) scale(0.92,1)" class="tick" text-anchor="middle">12</text>
<text transform="translate(665.7,951.6) scale(0.92,1)" class="tick" text-anchor="middle">24</text>
<text transform="translate(715.9,951.6) scale(0.92,1)" class="tick" text-anchor="middle">36</text>
<text x="655.8" y="969.4" class="ax" font-size="15.4" text-anchor="middle">Follow-up time (months)</text>
<text transform="translate(514.2,850.8) scale(0.91,1) rotate(-90)" class="rot" font-size="16" text-anchor="middle">Disease-free Survival</text>
<text x="696.6" y="788.2" class="b" font-size="15.5" fill="#1d4878" stroke="#1d4878" stroke-width="0.3">SIIR reduction</text>
<text x="591.2" y="851.5" class="b" font-size="15.4" fill="#e18e25" stroke="#e18e25" stroke-width="0.3">SIIR non-reduction</text>
</svg>
</body>
</html>
